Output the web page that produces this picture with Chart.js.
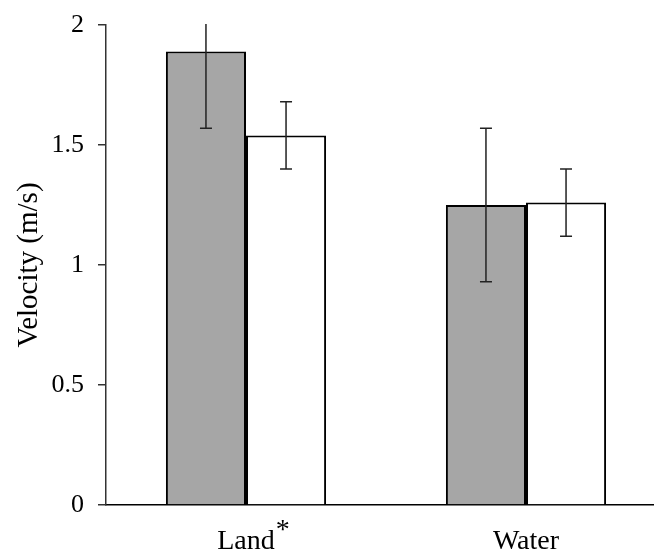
<!DOCTYPE html>
<html>
<head>
<meta charset="utf-8">
<script src="https://cdn.jsdelivr.net/npm/chart.js@4"></script>
<style>
  html, body { margin: 0; padding: 0; background: #fff; overflow: hidden; }
  #wrap { width: 666px; height: 552px; }
</style>
</head>
<body>
<div id="wrap"><canvas id="chart" width="666" height="552"></canvas></div>
<script>
// categories and their significance marks
const categories = ['Land', 'Water'];
const marks = ['*', ''];

// two groups of bars (mean velocity) with their error (+/-)
const greyValues = [1.89, 1.25];
const greyErrors = [0.32, 0.32];
const whiteValues = [1.54, 1.26];
const whiteErrors = [0.14, 0.14];

const yTicks = [0, 0.5, 1, 1.5, 2];

const FONT = '"Liberation Serif", "Times New Roman", serif';

// error bars, clipped to the plot area
const errorBars = {
    id: 'errorBars',
    afterDatasetsDraw(chart) {
        const { ctx, chartArea, scales: { y } } = chart;
        ctx.save();
        ctx.beginPath();
        ctx.rect(chartArea.left, chartArea.top - 1, chartArea.right - chartArea.left, chartArea.bottom - chartArea.top + 1);
        ctx.clip();
        ctx.strokeStyle = '#222';
        ctx.lineWidth = 1.5;
        chart.data.datasets.forEach((ds, i) => {
            chart.getDatasetMeta(i).data.forEach((bar, j) => {
                const v = ds.data[j], e = ds.errors[j];
                const hi = y.getPixelForValue(v + e);
                const lo = y.getPixelForValue(v - e);
                const x = bar.x;
                ctx.beginPath();
                ctx.moveTo(x, hi); ctx.lineTo(x, lo);
                ctx.moveTo(x - 6, hi); ctx.lineTo(x + 6, hi);
                ctx.moveTo(x - 6, lo); ctx.lineTo(x + 6, lo);
                ctx.stroke();
            });
        });
        ctx.restore();
    }
};

// category labels with a raised mark
const catLabels = {
    id: 'catLabels',
    afterDraw(chart) {
        const { ctx, scales: { x } } = chart;
        ctx.save();
        ctx.fillStyle = '#000';
        ctx.font = '28px ' + FONT;
        ctx.textBaseline = 'alphabetic';
        categories.forEach((c, i) => {
            const cx = x.getPixelForValue(i);
            const w = ctx.measureText(c).width;
            ctx.textAlign = 'center';
            ctx.fillText(c, cx, 549);
            if (marks[i]) {
                ctx.textAlign = 'left';
                ctx.fillText(marks[i], cx + w / 2 + 1, 538);
            }
        });
        ctx.restore();
    }
};

new Chart(document.getElementById('chart'), {
    type: 'bar',
    data: {
        labels: categories,
        datasets: [{
            data: greyValues,
            errors: greyErrors,
            backgroundColor: '#a6a6a6',
            borderColor: '#000',
            borderWidth: 2,
            barPercentage: 1,
            categoryPercentage: 0.572
        }, {
            data: whiteValues,
            errors: whiteErrors,
            backgroundColor: '#fff',
            borderColor: '#000',
            borderWidth: 2,
            barPercentage: 1,
            categoryPercentage: 0.572
        }]
    },
    options: {
        responsive: false,
        animation: false,
        layout: { padding: { top: 25, left: 0, right: 0, bottom: 0 } },
        plugins: { legend: { display: false }, tooltip: { enabled: false } },
        scales: {
            x: {
                grid: { display: false },
                border: { display: true, color: '#000', width: 1.5 },
                ticks: { display: false },
                afterFit(s) { s.height = 47; s.paddingLeft = 0; s.paddingRight = 0; }
            },
            y: {
                min: 0,
                max: 2,
                afterBuildTicks(s) { s.ticks = yTicks.map(v => ({ value: v })); },
                ticks: {
                    color: '#000',
                    padding: 14,
                    font: { family: FONT, size: 26 },
                    callback: v => String(v)
                },
                grid: { drawOnChartArea: false, tickLength: 8, color: '#333', lineWidth: 1.5 },
                border: { display: true, color: '#333', width: 1.5 },
                title: {
                    display: true,
                    text: 'Velocity (m/s)',
                    color: '#000',
                    font: { family: FONT, size: 29 },
                    padding: { top: 12, bottom: 0 }
                },
                afterFit(s) { s.width = 106; s.paddingTop = 0; s.paddingBottom = 0; }
            }
        }
    },
    plugins: [errorBars, catLabels]
});
</script>
</body>
</html>
